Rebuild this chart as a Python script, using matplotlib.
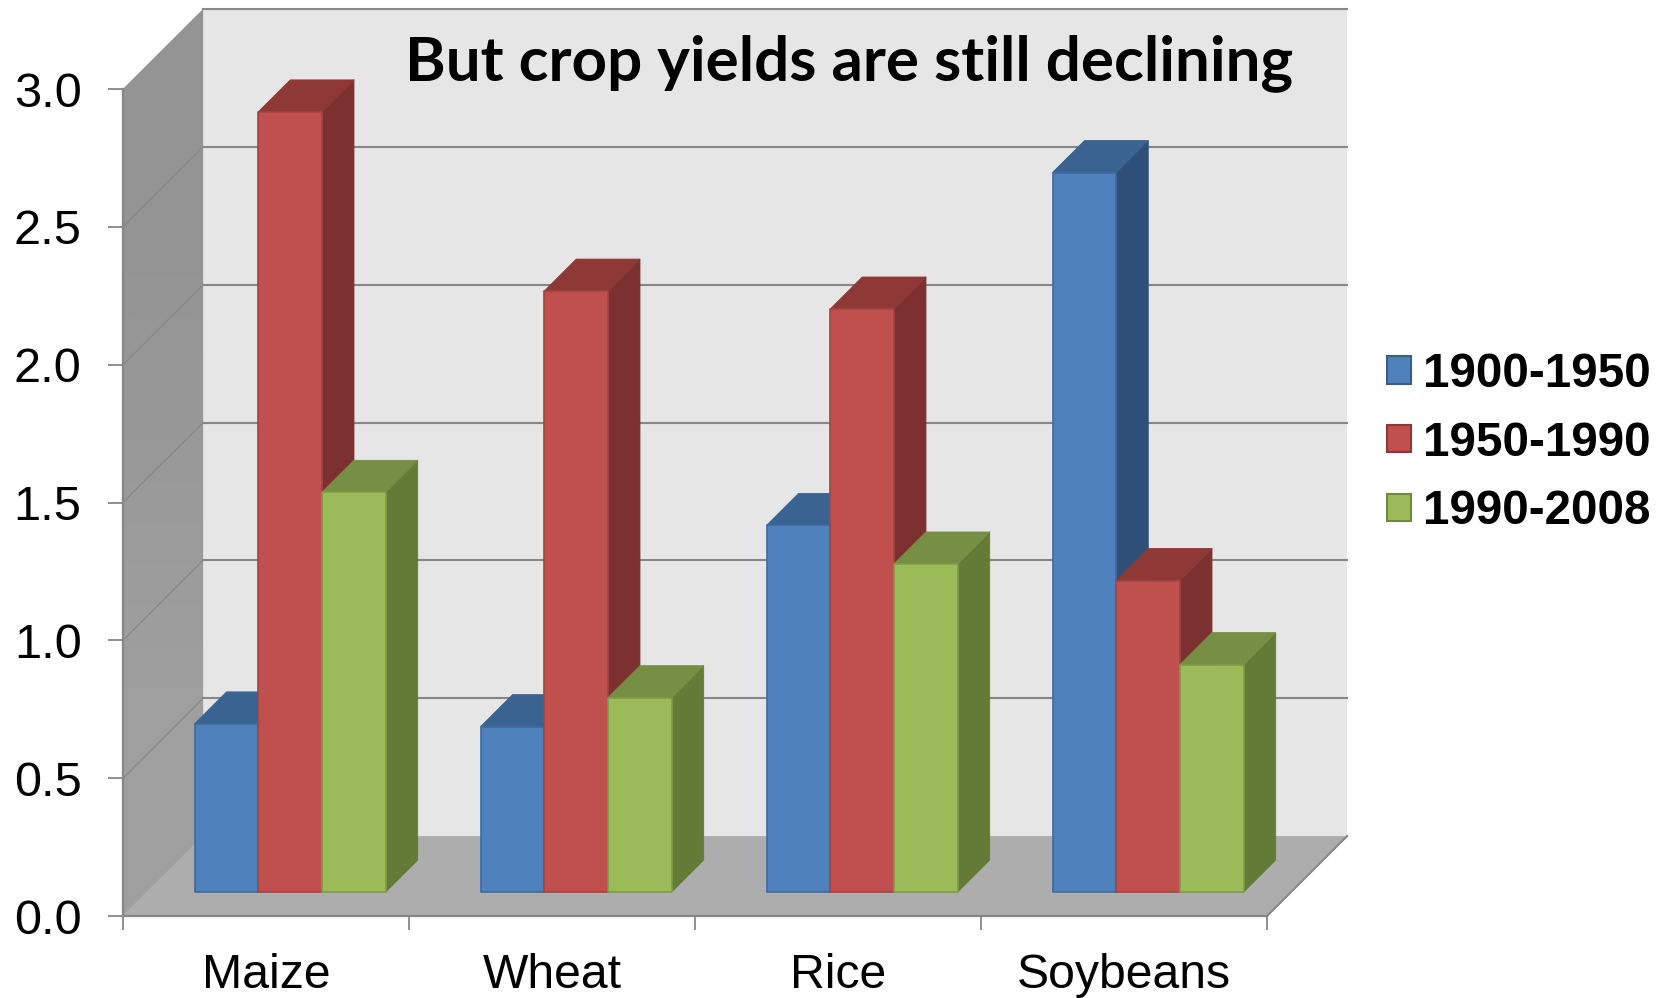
import matplotlib
matplotlib.use('Agg')
import matplotlib.pyplot as plt
from matplotlib.colors import LinearSegmentedColormap
from matplotlib.patches import Polygon, Patch

crops = ['Maize', 'Wheat', 'Rice', 'Soybeans']
periods = ['1900-1950', '1950-1990', '1990-2008']
yields_1900 = [0.61, 0.60, 1.33, 2.61]
yields_1950 = [2.83, 2.18, 2.115, 1.13]
yields_1990 = [1.45, 0.705, 1.19, 0.825]
y_ticks = [0.0, 0.5, 1.0, 1.5, 2.0, 2.5, 3.0]

face_colors = ['#4F81BD', '#C0504D', '#9BBB59']
top_colors = ['#3B6391', '#8F3937', '#778F44']
side_colors = ['#2E5078', '#7D3030', '#647A37']
edge_colors = ['#3F69A0', '#A04442', '#7F9C48']
legend_edges = ['#385D8A', '#8C3836', '#71893F']

GRID = '#868686'
# fake 3d: how far the back of the box shifts, in data units
DEPTH_X = 0.28
DEPTH_Y = 0.29
BAR_W = 0.2228
GAP = 0.166
BAR_FRONT = 0.3
BAR_BACK = 0.7


def proj(x, y, d):
    return (x + d * DEPTH_X, y + d * DEPTH_Y)


def add_poly(ax, pts, color, edge=None, lw=0, z=1):
    poly = Polygon(pts, closed=True, facecolor=color, edgecolor=edge or color,
                   linewidth=lw, clip_on=False, zorder=z, joinstyle='round')
    ax.add_patch(poly)
    return poly


def draw_bar(ax, x0, value, col):
    x1 = x0 + BAR_W
    # side, top, then front so the front face stays on top
    add_poly(ax, [proj(x1, 0, BAR_FRONT), proj(x1, 0, BAR_BACK),
                  proj(x1, value, BAR_BACK), proj(x1, value, BAR_FRONT)],
             side_colors[col], lw=0.6, z=3)
    add_poly(ax, [proj(x0, value, BAR_FRONT), proj(x1, value, BAR_FRONT),
                  proj(x1, value, BAR_BACK), proj(x0, value, BAR_BACK)],
             top_colors[col], lw=0.6, z=3)
    add_poly(ax, [proj(x0, 0, BAR_FRONT), proj(x1, 0, BAR_FRONT),
                  proj(x1, value, BAR_FRONT), proj(x0, value, BAR_FRONT)],
             face_colors[col], edge=edge_colors[col], lw=1.2, z=3)


fig = plt.figure(figsize=(16.7, 9.98), dpi=100)
ax = fig.add_axes([123 / 1670, 1 - 916 / 998, (1267 - 123) / 1670, (916 - 89) / 998])
ax.set_xlim(0, 4)
ax.set_ylim(0, 3)
ax.patch.set_alpha(0)

# box: back wall, left wall, floor
add_poly(ax, [proj(0, 0, 1), proj(4, 0, 1), proj(4, 3, 1), proj(0, 3, 1)], '#E6E6E6', z=0)
left_wall = add_poly(ax, [proj(0, 0, 0), proj(0, 0, 1), proj(0, 3, 1), proj(0, 3, 0)], '#999999', z=0)
wall_cmap = LinearSegmentedColormap.from_list('wall', ['#9F9F9F', '#949494'])
wall_img = ax.imshow([[1], [0]], extent=(0, DEPTH_X, 0, 3 + DEPTH_Y), aspect='auto',
                     cmap=wall_cmap, interpolation='bilinear', zorder=0, origin='upper')
wall_img.set_clip_path(left_wall)
wall_img.set_clip_box(fig.bbox)
ax.set_xlim(0, 4)
ax.set_ylim(0, 3)
add_poly(ax, [proj(0, 0, 0), proj(4, 0, 0), proj(4, 0, 1), proj(0, 0, 1)], '#ADADAD', z=0.5)

for t in y_ticks[1:]:
    bx, by = zip(proj(0, t, 1), proj(4, t, 1))
    ax.plot(bx, by, color=GRID, lw=1.5, clip_on=False, zorder=1)
    if t < 3.0:
        sx, sy = zip(proj(0, t, 0), proj(0, t, 1))
        ax.plot(sx, sy, color=GRID, lw=0.9, clip_on=False, zorder=1)
ex, ey = zip(proj(4, 0, 0), proj(4, 0, 1))
ax.plot(ex, ey, color=GRID, lw=1.5, clip_on=False, zorder=1)

series = [yields_1900, yields_1950, yields_1990]
for i in range(len(crops)):
    for j, vals in enumerate(series):
        draw_bar(ax, i + GAP + j * BAR_W, vals[i], j)

for s in ['top', 'right']:
    ax.spines[s].set_visible(False)
for s in ['left', 'bottom']:
    ax.spines[s].set_color(GRID)
    ax.spines[s].set_linewidth(1.6)

ax.set_yticks(y_ticks)
ax.set_yticklabels(['%.1f' % t for t in y_ticks], fontsize=35, family='Liberation Sans')
ax.tick_params(axis='y', length=10.8, width=1.3, color=GRID, pad=19)

ax.set_xticks([0, 1, 2, 3, 4])
ax.set_xticklabels([])
ax.tick_params(axis='x', length=10, width=1.3, color=GRID)
ax.set_xticks([0.5, 1.5, 2.5, 3.5], minor=True)
ax.set_xticklabels(crops, minor=True, fontsize=34.7, family='Liberation Sans')
ax.tick_params(axis='x', which='minor', length=0, pad=26.5)

fig.text(849 / 1670, 1 - 63 / 998, 'But crop yields are still declining', ha='center', va='center',
         fontsize=44.6, fontweight='bold', family='Lato', color='black')

handles = [Patch(facecolor=face_colors[k], edgecolor=legend_edges[k], linewidth=1.5) for k in range(3)]
fig.legend(handles, periods, loc='center left', bbox_to_anchor=(1387 / 1670, 1 - 443 / 998),
           frameon=False, borderpad=0, borderaxespad=0, handlelength=0.51, handleheight=0.51,
           handletextpad=0.25, labelspacing=0.5,
           prop={'family': 'Liberation Sans', 'weight': 'bold', 'size': 34.3})

fig.savefig('out.png', dpi=100)
